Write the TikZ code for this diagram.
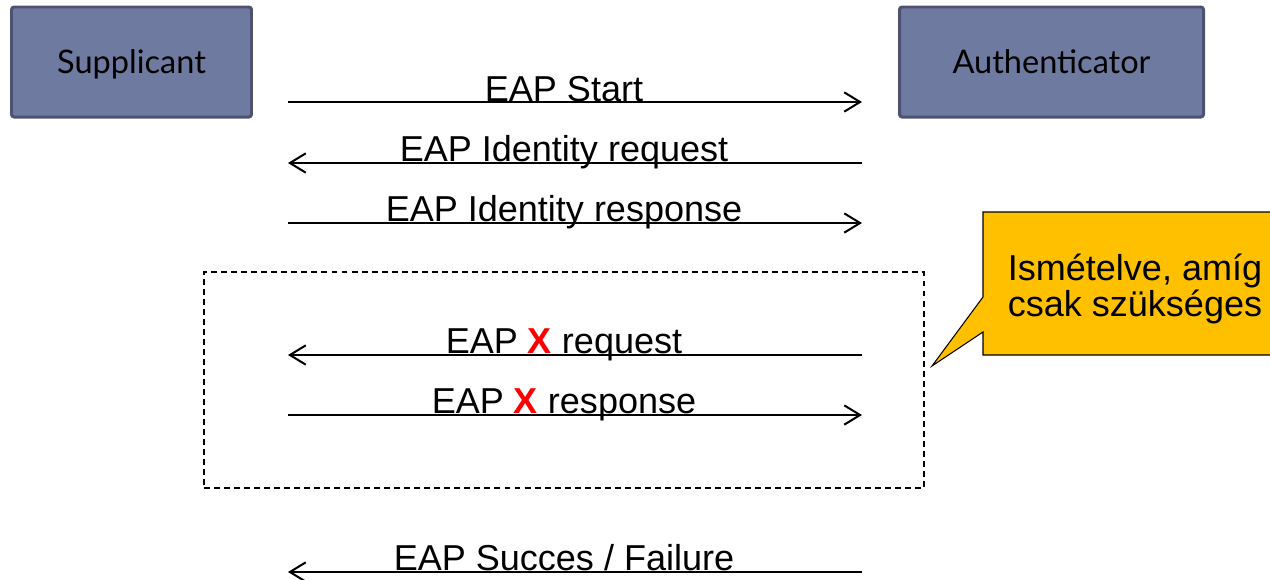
\documentclass[tikz,border=0pt]{standalone}
\usepackage{fontspec}
\setmainfont{Liberation Sans}
\newfontfamily\boxfont{Lato}
\usetikzlibrary{arrows.meta,positioning}
\definecolor{boxfill}{RGB}{111,122,160}
\definecolor{boxborder}{RGB}{76,82,112}
\definecolor{notefill}{RGB}{255,192,0}

\begin{document}
\begin{tikzpicture}[x=0.2mm,y=-0.2mm]
    \tikzset{
      box/.style={draw=boxborder, line width=1.7pt, fill=boxfill, rounded corners=1.5pt, minimum height=22mm, text depth=0pt, font=\boxfont\fontsize{18.5}{22}\selectfont},
      msg/.style={anchor=base, inner sep=0pt, font=\fontsize{20.5}{24}\selectfont},
      line/.style={draw, line width=1.15pt, -{Straight Barb[length=9pt,width=11pt]}},
      loopbox/.style={draw, line width=0.7pt, dash pattern=on 3.4pt off 2.3pt, minimum width=144mm, minimum height=43.2mm},
      note/.style={draw, line width=0.6pt, fill=notefill},
      notetext/.style={align=center, inner sep=0pt, font=\fontsize{20.5}{21}\selectfont}
    }
    \useasboundingbox (0,0) rectangle (1270,579);

    \node [box, minimum width=48mm] (supp) at (131.5,62) {Supplicant};
    \node [box, minimum width=60.8mm] (auth) at (1051.5,62) {Authenticator};

    % message end points
    \coordinate (s1) at (288,102); \coordinate (a1) at (862,102);
    \coordinate (s2) at (288,163); \coordinate (a2) at (862,163);
    \coordinate (s3) at (288,223); \coordinate (a3) at (862,223);
    \coordinate (s4) at (288,355); \coordinate (a4) at (862,355);
    \coordinate (s5) at (288,415); \coordinate (a5) at (862,415);
    \coordinate (s6) at (288,572); \coordinate (a6) at (862,572);

    \path [line] (s1)--(a1);
    \path [line] (a2)--(s2);
    \path [line] (s3)--(a3);
    \path [line] (a4)--(s4);
    \path [line] (s5)--(a5);
    \path [line] (a6)--(s6);

    \node [msg] (start) at (564,101) {EAP Start};
    \node [msg] (idreq) at (564,161) {EAP Identity request};
    \node [msg] (idresp) at (564,221) {EAP Identity response};
    \node [msg] (xreq) at (564,353) {EAP \textcolor{red}{\textbf{X}} request};
    \node [msg] (xresp) at (564,413) {EAP \textcolor{red}{\textbf{X}} response};
    \node [msg] (result) at (564,570) {EAP Succes / Failure};

    \node [loopbox] (rep) at (564,380) {};

    % callout
    \coordinate (tip) at (932,366);
    \path [note] (983,212) -- (1290,212) -- (1290,355) -- (983,355) -- (983,332) -- (tip) -- (983,297) -- cycle;
    \node [notetext] (repnote) at (1135,289) {Ismételve, amíg\\csak szükséges};
\end{tikzpicture}
\end{document}
